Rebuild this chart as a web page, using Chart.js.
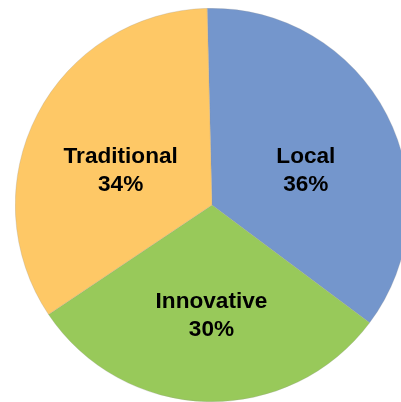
<!DOCTYPE html>
<html>
<head>
<meta charset="utf-8">
<script src="https://cdn.jsdelivr.net/npm/chart.js@4/dist/chart.umd.min.js"></script>
<style>
  html, body { margin: 0; padding: 0; background: #fff; width: 401px; height: 402px; overflow: hidden; position: relative; }
  #c { position: absolute; left: 15px; top: 8px; }
</style>
</head>
<body>
<canvas id="c" width="394" height="394"></canvas>
<script>
const categories = ["Local", "Innovative", "Traditional"];
const shares = [35.6, 30.4, 34.0];
const sliceColors = ["#7496CC", "#98C95A", "#FEC866"];
// label placement styling (fraction of radius, angular nudge in degrees)
const labelRadiusFrac = [0.511, 0.556, 0.499];
const labelAngleShift = [6.3, -1.2, -5.9];

const labelPlugin = {
  id: 'sliceLabels',
  afterDatasetsDraw(chart) {
    const ctx = chart.ctx;
    const meta = chart.getDatasetMeta(0);
    const data = chart.data.datasets[0].data;
    ctx.save();
    ctx.fillStyle = '#000';
    ctx.font = 'bold 22.6px "Liberation Sans", Arial, sans-serif';
    ctx.textAlign = 'center';
    ctx.textBaseline = 'alphabetic';
    meta.data.forEach((arc, i) => {
      const p = arc.getProps(['x', 'y', 'startAngle', 'endAngle', 'outerRadius'], true);
      const mid = (p.startAngle + p.endAngle) / 2 + labelAngleShift[i] * Math.PI / 180;
      const r = p.outerRadius * labelRadiusFrac[i];
      const cx = p.x + Math.cos(mid) * r;
      const cy = p.y + Math.sin(mid) * r;
      ctx.fillText(chart.data.labels[i], cx, cy - 6);
      ctx.fillText(Math.round(data[i]) + '%', cx, cy + 22);
    });
    ctx.restore();
  }
};

new Chart(document.getElementById('c'), {
  type: 'pie',
  data: {
    labels: categories,
    datasets: [{
      data: shares,
      backgroundColor: sliceColors,
      borderColor: 'rgba(150,150,150,0.5)',
      borderWidth: 0.5
    }]
  },
  options: {
    responsive: false,
    maintainAspectRatio: false,
    animation: false,
    rotation: -1.4,
    layout: { padding: 0 },
    plugins: {
      legend: { display: false },
      tooltip: { enabled: false }
    }
  },
  plugins: [labelPlugin]
});
</script>
</body>
</html>
